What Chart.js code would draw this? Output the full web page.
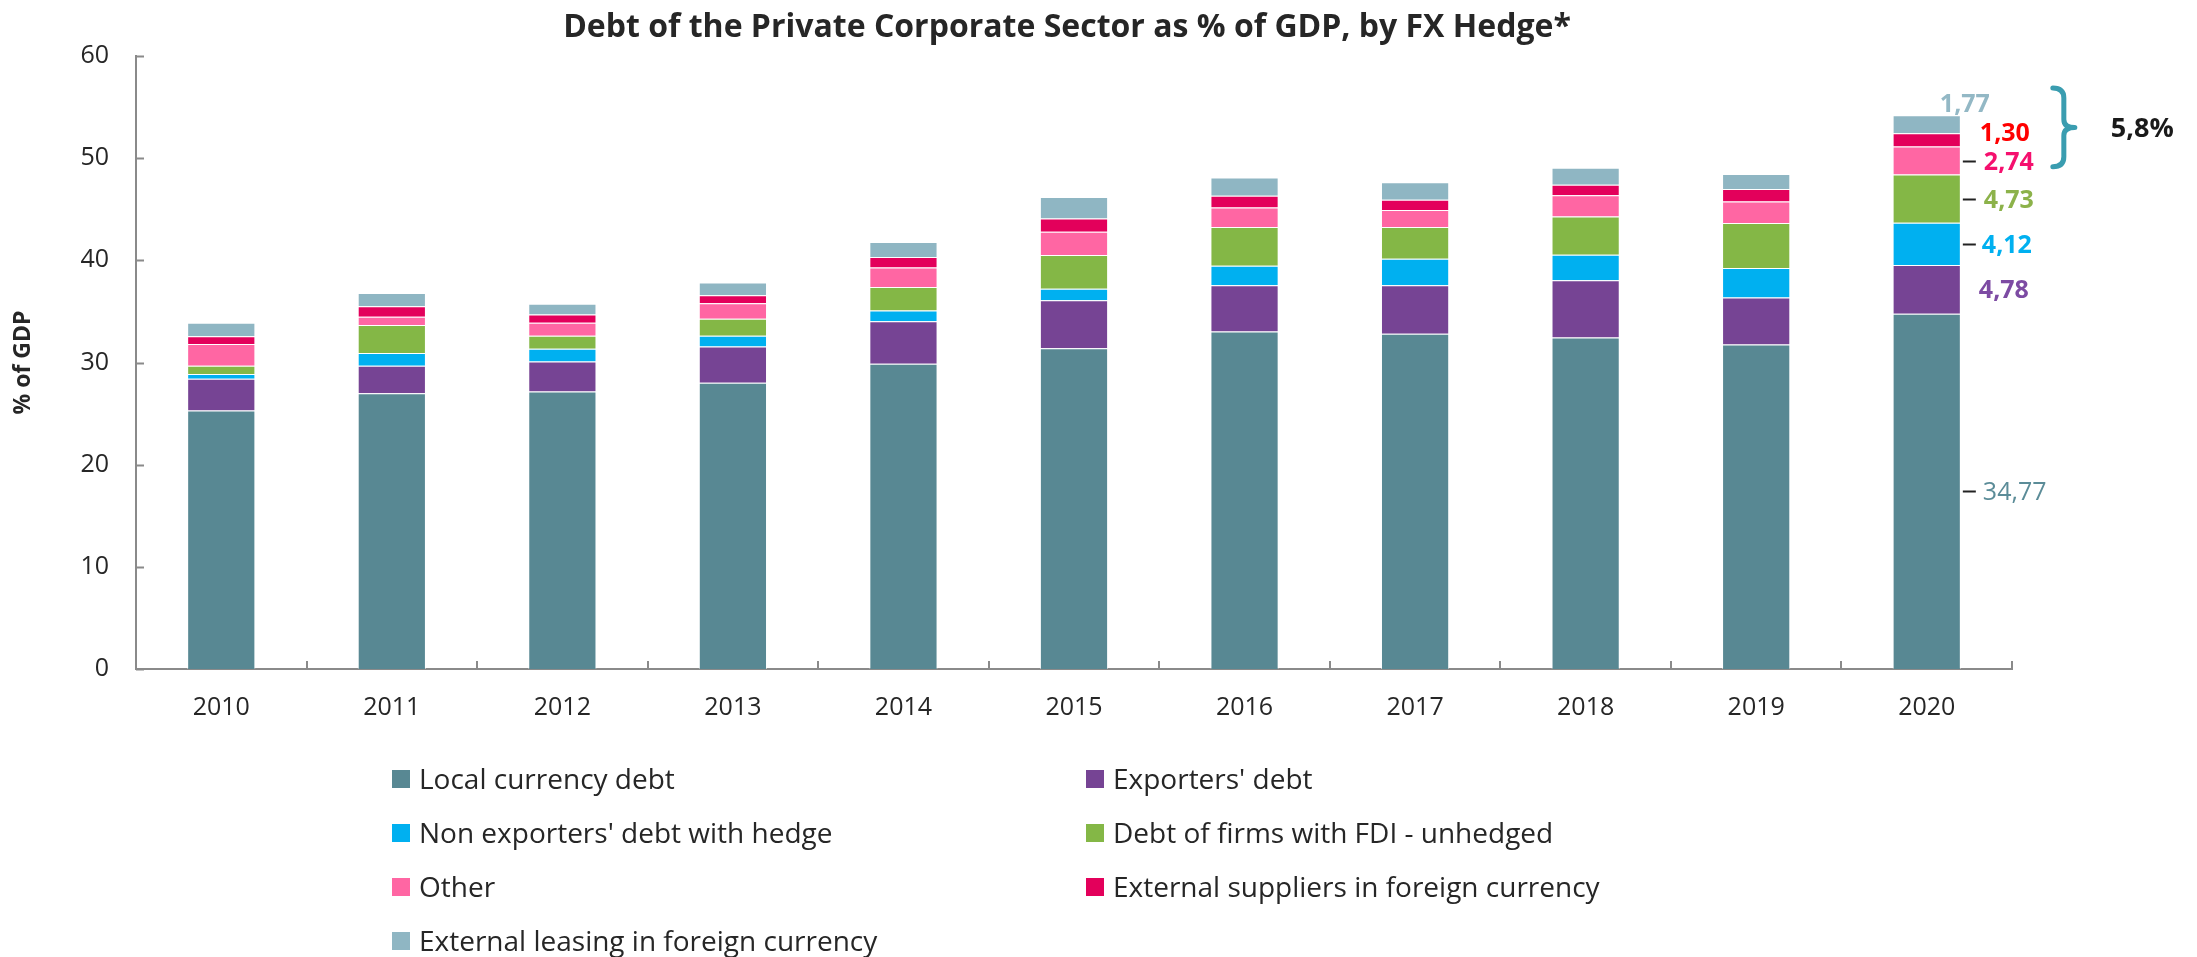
<!DOCTYPE html>
<html>
<head>
<meta charset="utf-8">
<title>Debt of the Private Corporate Sector</title>
<script src="https://cdn.jsdelivr.net/npm/chart.js@4/dist/chart.umd.min.js"></script>
<style>
  html, body { margin: 0; padding: 0; background: #fff; }
  canvas { display: block; }
</style>
</head>
<body>
<canvas id="debtByHedge" width="2197" height="957"></canvas>
<script>
const years = ['2010', '2011', '2012', '2013', '2014', '2015', '2016', '2017', '2018', '2019', '2020'];

// % of GDP, bottom segment first
const localCurrency     = [25.31, 26.99, 27.17, 28.03, 29.88, 31.39, 33.03, 32.82, 32.45, 31.77, 34.77];
const exporters         = [3.11, 2.69, 2.93, 3.53, 4.15, 4.71, 4.54, 4.75, 5.61, 4.59, 4.78];
const nonExportersHedge = [0.46, 1.25, 1.25, 1.05, 1.05, 1.11, 1.91, 2.58, 2.48, 2.90, 4.12];
const fdiUnhedged       = [0.80, 2.73, 1.26, 1.67, 2.31, 3.32, 3.78, 3.11, 3.74, 4.40, 4.73];
const other             = [2.13, 0.83, 1.29, 1.51, 1.92, 2.27, 1.91, 1.67, 2.09, 2.09, 2.74];
const extSuppliers      = [0.76, 1.01, 0.80, 0.80, 1.01, 1.29, 1.15, 1.01, 1.04, 1.23, 1.30];
const extLeasing        = [1.33, 1.30, 1.05, 1.25, 1.47, 2.10, 1.78, 1.71, 1.66, 1.47, 1.77];

const seriesNames = [
    'Local currency debt',
    "Exporters' debt",
    "Non exporters' debt with hedge",
    'Debt of firms with FDI - unhedged',
    'Other',
    'External suppliers in foreign currency',
    'External leasing in foreign currency'
];
const seriesValues = [localCurrency, exporters, nonExportersHedge, fdiUnhedged, other, extSuppliers, extLeasing];
const seriesColors = ['#588893', '#764494', '#00b0f0', '#84b746', '#ff66a3', '#e3005b', '#8fb6c3'];
const yTicks = [0, 10, 20, 30, 40, 50, 60];

const FONT = '"Open Sans", Lato, sans-serif';
const TEXT = '#262626';
const AXIS = '#8a8a8a';

// value labels next to the last bar
const lastBarLabels = [
    { color: '#5b8c98', bold: false, dash: true,  dx: 22, dy: 0 },
    { color: '#7d4ba3', bold: true,  dash: false, dx: 18, dy: 0 },
    { color: '#00b0f0', bold: true,  dash: true,  dx: 21, dy: 0 },
    { color: '#8cb24a', bold: true,  dash: true,  dx: 23, dy: 0 },
    { color: '#f5106e', bold: true,  dash: true,  dx: 23, dy: 0 },
    { color: '#ff0000', bold: true,  dash: false, dx: 19, dy: -8 },
    { color: '#93b8c5', bold: true,  dash: false, dx: -21, dy: 0, above: true }
];

const fmt = (v, d) => v.toFixed(d).replace('.', ',');

const extras = {
    id: 'extras',
    afterDraw(chart) {
        const ctx = chart.ctx;
        const { left, bottom } = chart.chartArea;
        const x = chart.scales.x;
        const y = chart.scales.y;
        ctx.save();
        ctx.textBaseline = 'alphabetic';
        ctx.textAlign = 'left';

        // title
        ctx.fillStyle = TEXT;
        ctx.font = 'bold 32px ' + FONT;
        ctx.textAlign = 'center';
        ctx.fillText('Debt of the Private Corporate Sector as % of GDP, by FX Hedge*', 1067, 37);
        ctx.textAlign = 'left';

        // inward tick marks
        ctx.strokeStyle = AXIS;
        ctx.lineWidth = 2;
        ctx.beginPath();
        yTicks.forEach(v => {
            const py = Math.round(y.getPixelForValue(v)) + 0.5;
            ctx.moveTo(left, py);
            ctx.lineTo(left + 8, py);
        });
        const step = x.getPixelForValue(1) - x.getPixelForValue(0);
        for (let i = 1; i <= years.length; i++) {
            const px = Math.round(x.getPixelForValue(i - 1) + step / 2);
            ctx.moveTo(px, bottom);
            ctx.lineTo(px, bottom - 8);
        }
        ctx.stroke();

        // labels for the 2020 bar
        const last = years.length - 1;
        let barRight = 0;
        chart.data.datasets.forEach((ds, i) => {
            const bar = chart.getDatasetMeta(i).data[last];
            const spec = lastBarLabels[i];
            const r = bar.x + bar.width / 2;
            barRight = r;
            const ly = spec.above ? bar.y - 12 : (bar.y + bar.base) / 2 + spec.dy;
            if (spec.dash) {
                ctx.strokeStyle = '#222';
                ctx.lineWidth = 2;
                ctx.beginPath();
                ctx.moveTo(r + 2, Math.round(ly) + 0.5);
                ctx.lineTo(r + 15, Math.round(ly) + 0.5);
                ctx.stroke();
            }
            ctx.fillStyle = spec.color;
            ctx.font = (spec.bold ? 'bold ' : '') + '25px ' + FONT;
            ctx.fillText(fmt(ds.data[last], 2), r + spec.dx, ly + 9);
        });

        // brace over the three foreign-currency segments
        const topThree = other[last] + extSuppliers[last] + extLeasing[last];
        const total = seriesValues.reduce((s, arr) => s + arr[last], 0);
        const bTop = y.getPixelForValue(total + 2.65);
        const bBot = y.getPixelForValue(total - topThree + 0.75);
        const bMid = (bTop + bBot) / 2;
        const bx = barRight + 103;
        ctx.strokeStyle = '#3a9db0';
        ctx.lineWidth = 5;
        ctx.lineJoin = 'round';
        ctx.lineCap = 'round';
        ctx.beginPath();
        ctx.moveTo(bx - 11, bTop);
        ctx.quadraticCurveTo(bx, bTop, bx, bTop + 10);
        ctx.lineTo(bx, bMid - 8);
        ctx.quadraticCurveTo(bx, bMid, bx + 11, bMid);
        ctx.quadraticCurveTo(bx, bMid, bx, bMid + 8);
        ctx.lineTo(bx, bBot - 10);
        ctx.quadraticCurveTo(bx, bBot, bx - 11, bBot);
        ctx.stroke();

        ctx.fillStyle = '#1a1a1a';
        ctx.font = 'bold 27px ' + FONT;
        ctx.fillText(fmt(topThree, 1) + '%', bx + 47, bMid + 10);

        // legend, two columns
        const colBox = [392, 1086];
        chart.data.datasets.forEach((ds, i) => {
            const col = i % 2;
            const row = Math.floor(i / 2);
            const cy = 779 + row * 54;
            ctx.fillStyle = ds.backgroundColor;
            ctx.fillRect(colBox[col], cy - 9, 18, 18);
            ctx.fillStyle = TEXT;
            ctx.font = '28px ' + FONT;
            ctx.fillText(ds.label, colBox[col] + 27, cy + 10);
        });

        ctx.restore();
    }
};

new Chart(document.getElementById('debtByHedge'), {
    type: 'bar',
    data: {
        labels: years,
        datasets: seriesNames.map((name, i) => ({
            label: name,
            data: seriesValues[i],
            backgroundColor: seriesColors[i],
            borderColor: 'rgba(255,255,255,0.55)',
            borderWidth: 1,
            barPercentage: 0.4,
            categoryPercentage: 1.0
        }))
    },
    options: {
        responsive: false,
        animation: false,
        devicePixelRatio: 1,
        layout: {
            padding: { top: 56, right: 185, bottom: 0, left: 0 }
        },
        plugins: {
            legend: { display: false },
            title: { display: false },
            tooltip: { enabled: false }
        },
        scales: {
            x: {
                stacked: true,
                grid: { display: false, drawTicks: false },
                border: { display: true, color: AXIS, width: 2 },
                ticks: {
                    color: TEXT,
                    padding: 24,
                    font: { family: FONT, size: 25 }
                },
                afterFit(scale) { scale.height = 288; }
            },
            y: {
                stacked: true,
                min: 0,
                max: 60,
                grid: { display: false, drawTicks: false },
                border: { display: true, color: AXIS, width: 2 },
                ticks: {
                    stepSize: 10,
                    color: TEXT,
                    padding: 27,
                    font: { family: FONT, size: 25 }
                },
                title: {
                    display: true,
                    text: '% of GDP',
                    color: TEXT,
                    font: { family: FONT, size: 23, weight: 'bold' },
                    padding: { top: 10, bottom: 0 }
                },
                afterFit(scale) { scale.width = 136; }
            }
        }
    },
    plugins: [extras]
});
</script>
</body>
</html>
